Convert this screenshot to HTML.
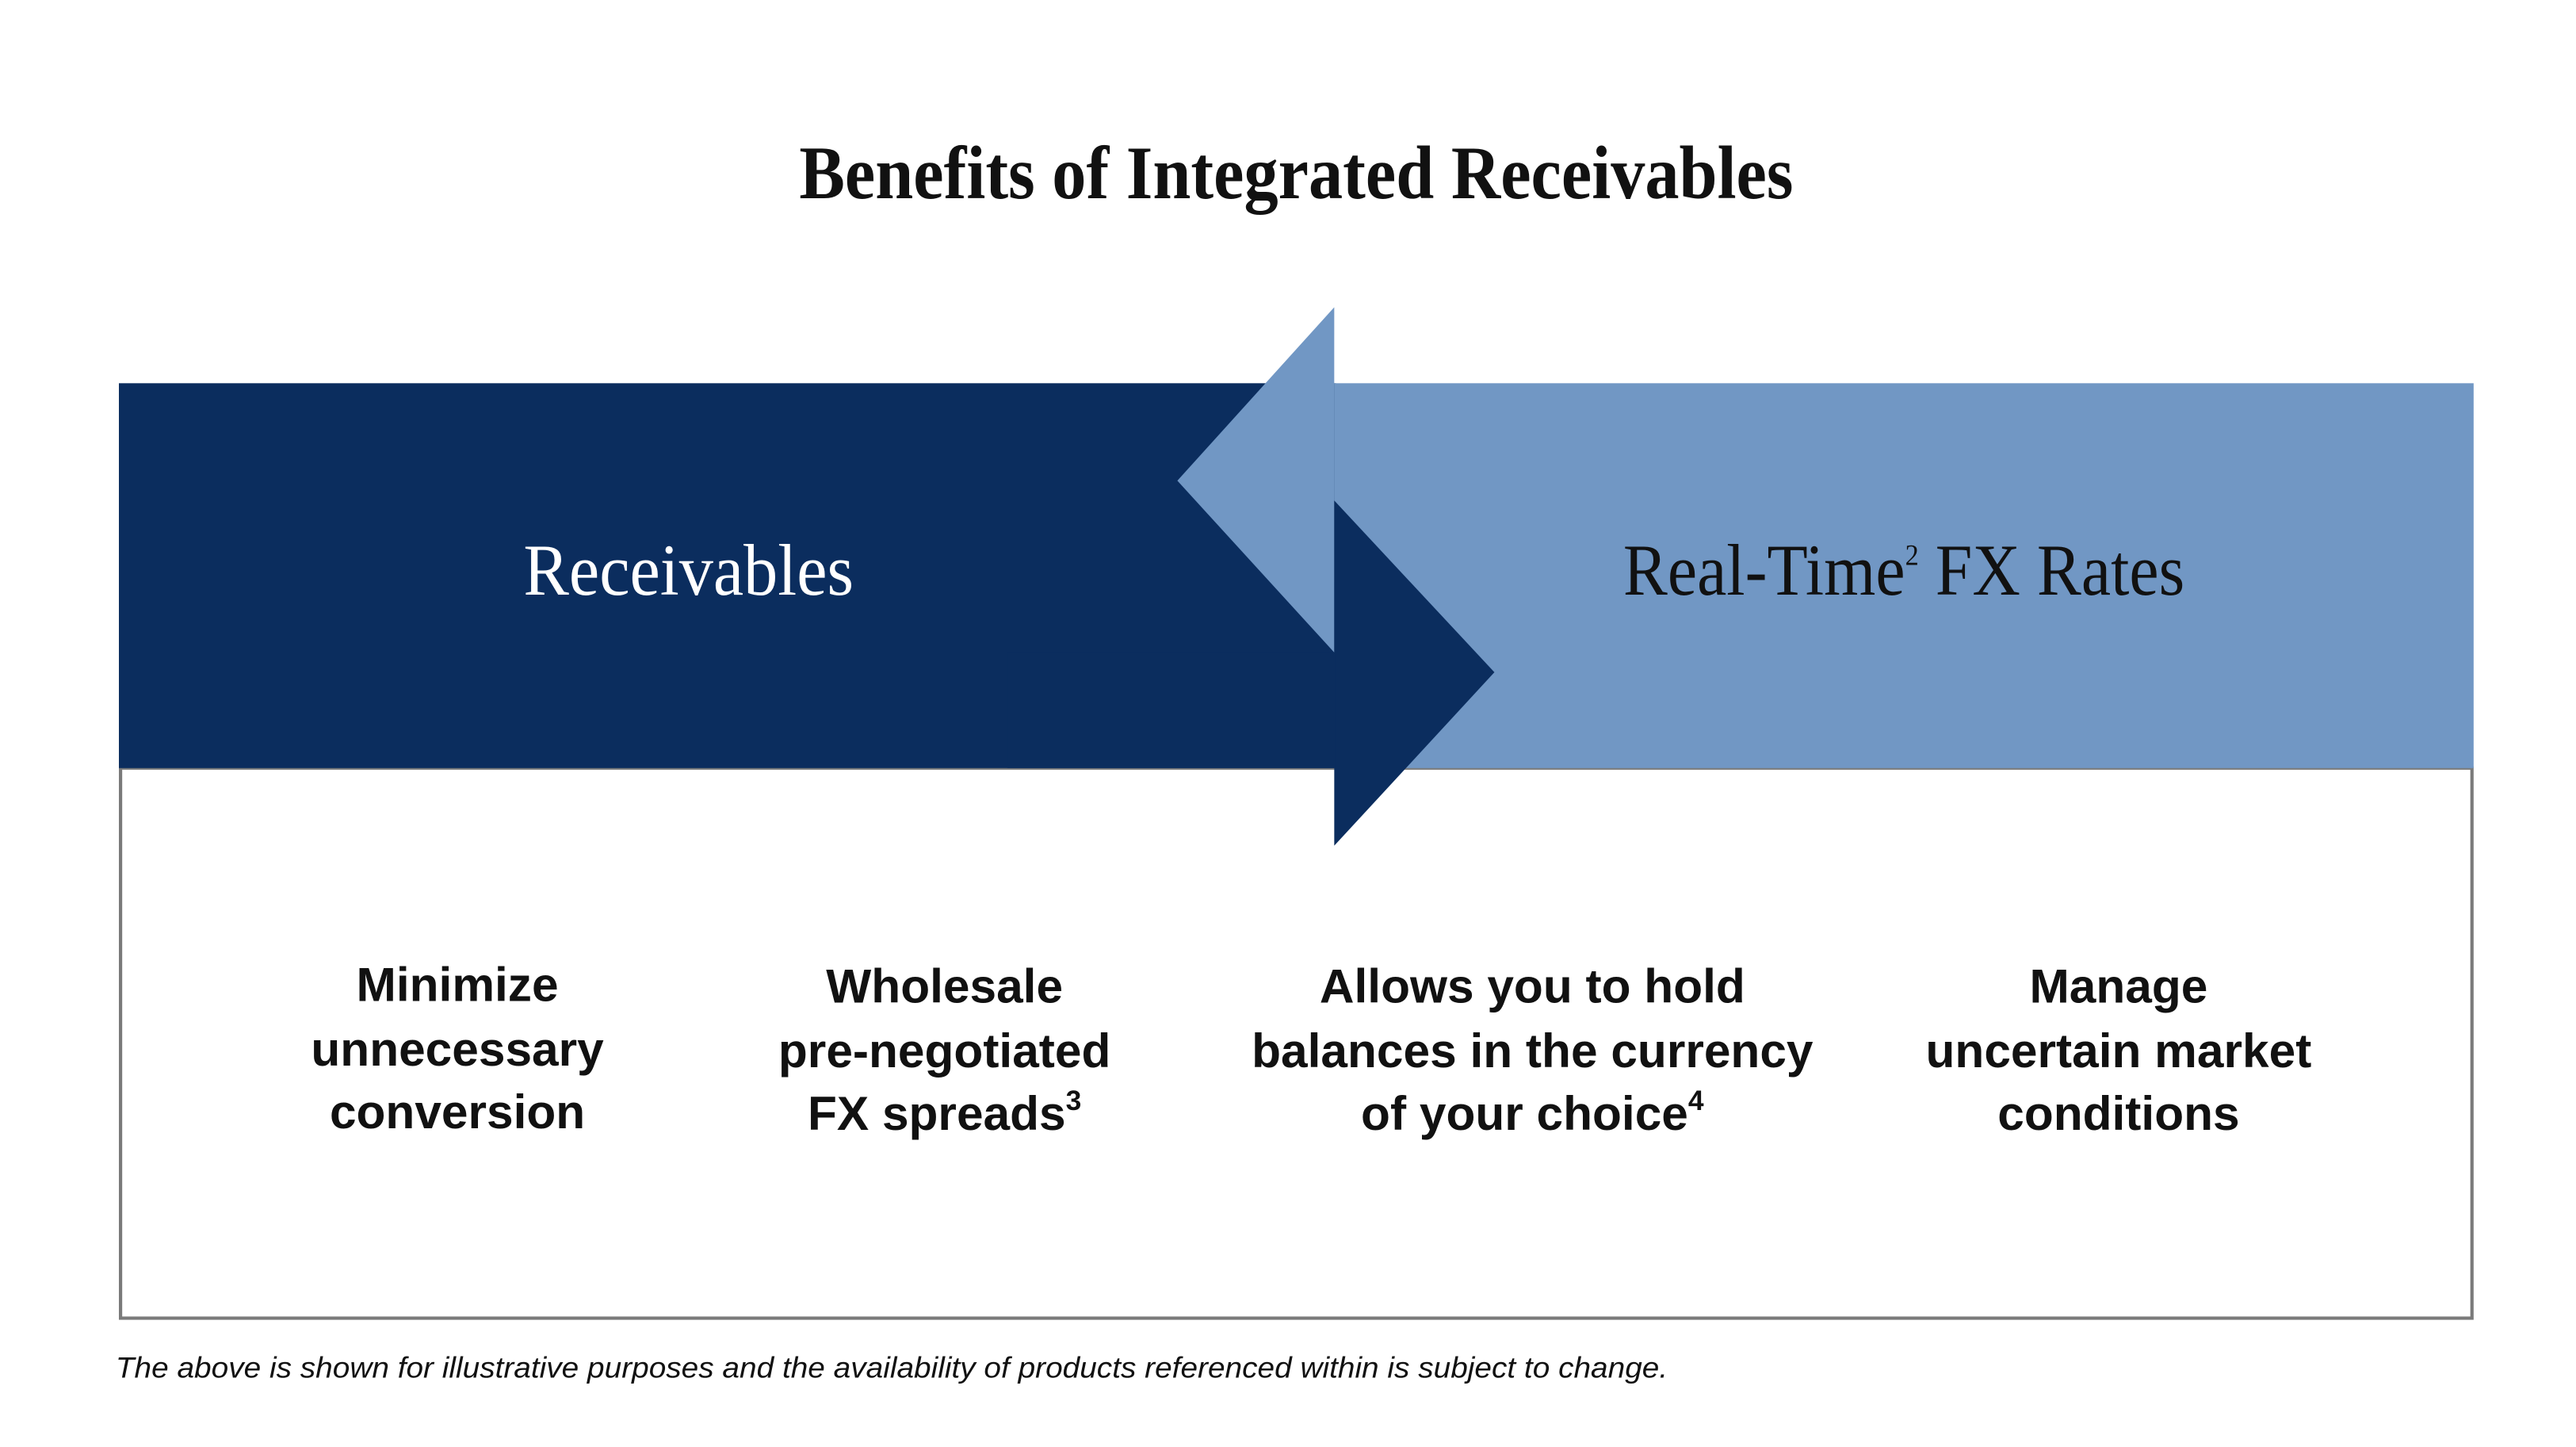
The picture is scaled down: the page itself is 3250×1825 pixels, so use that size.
<!DOCTYPE html>
<html><head><meta charset="utf-8"><style>
html,body{margin:0;padding:0;background:#fff;}
svg{display:block;}
</style></head><body>
<svg width="3250" height="1825" viewBox="0 0 1560 876" xmlns="http://www.w3.org/2000/svg">
<rect width="1560" height="876" fill="#fff"/>
<text x="785" y="120" text-anchor="middle" font-family="Liberation Serif, serif" font-weight="bold" font-size="46" fill="#111" textLength="602" lengthAdjust="spacingAndGlyphs">Benefits of Integrated Receivables</text>
<rect x="73" y="465" width="1424" height="333" fill="none" stroke="#7a7a7a" stroke-width="2"/>
<rect x="72" y="232" width="737" height="233" fill="#0b2d5e"/>
<rect x="808" y="232" width="690" height="233" fill="#7197c4"/>
<polygon points="713,291 808,186 808,395" fill="#7197c4"/>
<polygon points="808,303 905,407 808,512" fill="#0b2d5e"/>
<rect x="610" y="395" width="199" height="70" fill="#0b2d5e"/>
<text x="417" y="360" text-anchor="middle" font-family="Liberation Serif, serif" font-size="44" fill="#fff" textLength="200" lengthAdjust="spacingAndGlyphs">Receivables</text>
<text x="1153" y="360" text-anchor="middle" font-family="Liberation Serif, serif" font-size="44" fill="#111" textLength="340" lengthAdjust="spacingAndGlyphs">Real-Time<tspan font-size="18" dy="-18">2</tspan><tspan dy="18"> FX Rates</tspan></text>
<g font-family="Liberation Sans, sans-serif" font-weight="bold" font-size="29" fill="#111" text-anchor="middle">
<text x="277" y="606">Minimize</text>
<text x="277" y="645">unnecessary</text>
<text x="277" y="683">conversion</text>
<text x="572" y="607">Wholesale</text>
<text x="572" y="646">pre-negotiated</text>
<text x="572" y="684">FX spreads<tspan font-size="17" dy="-12">3</tspan></text>
<text x="928" y="607">Allows you to hold</text>
<text x="928" y="646">balances in the currency</text>
<text x="928" y="684">of your choice<tspan font-size="17" dy="-12">4</tspan></text>
<text x="1283" y="607">Manage</text>
<text x="1283" y="646">uncertain market</text>
<text x="1283" y="684">conditions</text>
</g>
<text x="70" y="834" font-family="Liberation Sans, sans-serif" font-style="italic" font-size="18" fill="#111" textLength="940" lengthAdjust="spacingAndGlyphs">The above is shown for illustrative purposes and the availability of products referenced within is subject to change.</text>
</svg>
</body></html>
